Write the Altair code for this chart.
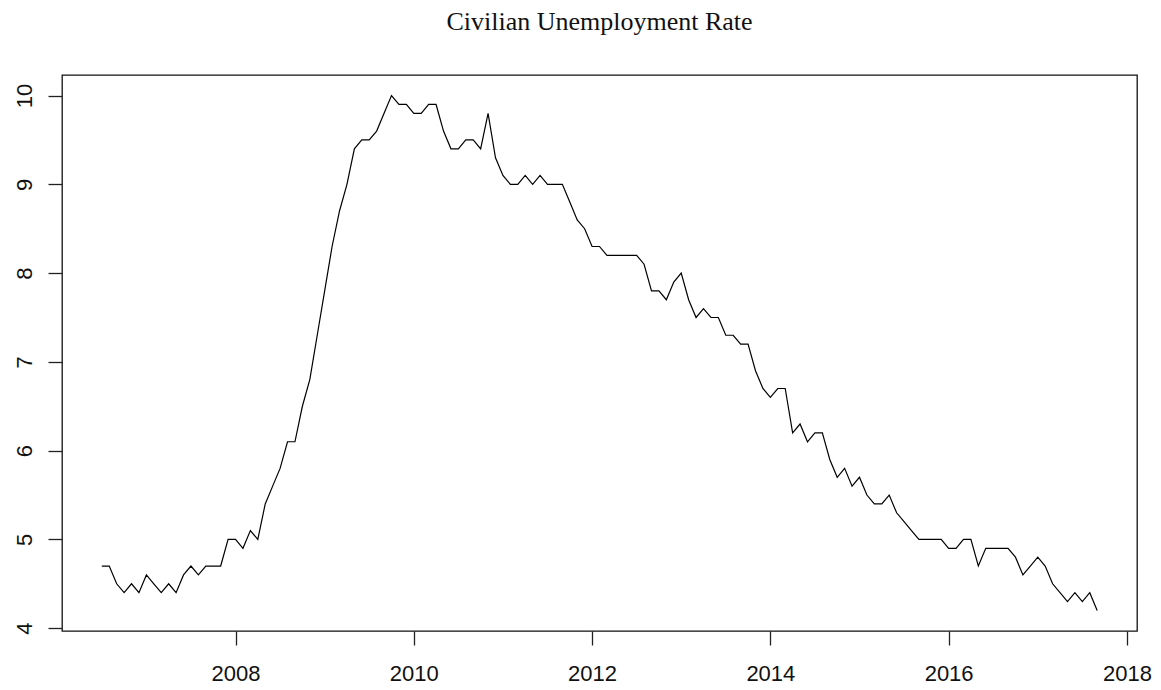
import altair as alt
import pandas as pd

start_year = 2006
start_month = 7
unrate = [
    4.7, 4.7, 4.5, 4.4, 4.5, 4.4,
    4.6, 4.5, 4.4, 4.5, 4.4, 4.6, 4.7, 4.6, 4.7, 4.7, 4.7, 5.0,
    5.0, 4.9, 5.1, 5.0, 5.4, 5.6, 5.8, 6.1, 6.1, 6.5, 6.8, 7.3,
    7.8, 8.3, 8.7, 9.0, 9.4, 9.5, 9.5, 9.6, 9.8, 10.0, 9.9, 9.9,
    9.8, 9.8, 9.9, 9.9, 9.6, 9.4, 9.4, 9.5, 9.5, 9.4, 9.8, 9.3,
    9.1, 9.0, 9.0, 9.1, 9.0, 9.1, 9.0, 9.0, 9.0, 8.8, 8.6, 8.5,
    8.3, 8.3, 8.2, 8.2, 8.2, 8.2, 8.2, 8.1, 7.8, 7.8, 7.7, 7.9,
    8.0, 7.7, 7.5, 7.6, 7.5, 7.5, 7.3, 7.3, 7.2, 7.2, 6.9, 6.7,
    6.6, 6.7, 6.7, 6.2, 6.3, 6.1, 6.2, 6.2, 5.9, 5.7, 5.8, 5.6,
    5.7, 5.5, 5.4, 5.4, 5.5, 5.3, 5.2, 5.1, 5.0, 5.0, 5.0, 5.0,
    4.9, 4.9, 5.0, 5.0, 4.7, 4.9, 4.9, 4.9, 4.9, 4.8, 4.6, 4.7,
    4.8, 4.7, 4.5, 4.4, 4.3, 4.4, 4.3, 4.4, 4.2,
]
times = [start_year + (start_month - 1 + i) / 12 for i in range(len(unrate))]
x_ticks = [2008, 2010, 2012, 2014, 2016, 2018]
y_ticks = [4, 5, 6, 7, 8, 9, 10]

df = pd.DataFrame({"t": times, "rate": unrate})

# R-style 4% extension of the data range
xr = max(times) - min(times)
yr = max(unrate) - min(unrate)
x_dom = [min(times) - 0.04 * xr, max(times) + 0.04 * xr]
y_dom = [min(unrate) - 0.04 * yr, max(unrate) + 0.04 * yr]

chart = alt.Chart(df).mark_line(color="black", strokeWidth=1.2).encode(
    x=alt.X("t:Q", scale=alt.Scale(domain=x_dom, nice=False, zero=False),
            axis=alt.Axis(values=x_ticks, format="d", title=None, grid=False, domain=False,
                          tickSize=14, tickColor="#222", tickWidth=1.3,
                          labelFont="Liberation Sans", labelFontSize=22, labelColor="#111",
                          labelPadding=18, labelFlush=False, labelOverlap=False)),
    y=alt.Y("rate:Q", scale=alt.Scale(domain=y_dom, nice=False, zero=False),
            axis=alt.Axis(values=y_ticks, title=None, grid=False, domain=False,
                          tickSize=14, tickColor="#222", tickWidth=1.3,
                          labelAngle=270, labelAlign="center", labelBaseline="alphabetic",
                          labelFont="Liberation Sans", labelFontSize=22, labelColor="#111",
                          labelPadding=17, labelFlush=False, labelOverlap=False)),
).properties(
    width=1075,
    height=556,
    title=alt.TitleParams("Civilian Unemployment Rate", font="Liberation Serif",
                          fontSize=26, fontWeight="normal", color="#111",
                          anchor="middle", offset=40),
    autosize=alt.AutoSizeParams(type="none"),
    padding={"left": 54, "top": 67, "right": 16, "bottom": 60},
).configure(background="white").configure_view(stroke="#111", strokeWidth=1.3)

chart.save("out.html", embed_options={"renderer": "svg", "actions": False})
